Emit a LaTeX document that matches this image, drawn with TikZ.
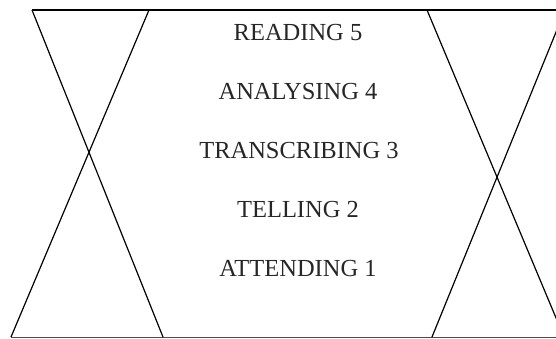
\documentclass[tikz,border=0pt]{standalone}
\usepackage{fontspec}
\setmainfont{Liberation Serif}
\begin{document}
\begin{tikzpicture}[x=1pt,y=-1pt,
  edge/.style={line width=1.2pt,black},
  label/.style={font=\fontsize{24.5}{28}\selectfont,text=black!85,inner sep=0pt,anchor=center}]
\useasboundingbox (0,0) rectangle (556,338);
\clip (0,0) rectangle (556,338);
% corner coordinates
\coordinate (tl1) at (32,10);
\coordinate (tl2) at (149,10);
\coordinate (bl1) at (11,337);
\coordinate (bl2) at (163,337);
\coordinate (tr1) at (427,10);
\coordinate (tr2) at (565,10);
\coordinate (br1) at (432,337);
\coordinate (br2) at (564,337);
\coordinate (tend) at (560,10);
\coordinate (bend) at (560,337);
% horizontal lines
\draw[line width=1.4pt] (tl1) -- (tend);
\draw[line width=1pt,black!70] (bl1) -- (bend);
% left X
\draw[edge] (tl1) -- (bl2);
\draw[edge] (tl2) -- (bl1);
% right X
\draw[edge] (tr1) -- (br2);
\draw[edge] (br1) -- (tr2);
% labels
\node[label] (reading) at (298,33) {READING 5};
\node[label] (analysing) at (298,92) {ANALYSING 4};
\node[label] (transcribing) at (299,151) {TRANSCRIBING 3};
\node[label] (telling) at (298,210) {TELLING 2};
\node[label] (attending) at (298,269) {ATTENDING 1};
\end{tikzpicture}
\end{document}
